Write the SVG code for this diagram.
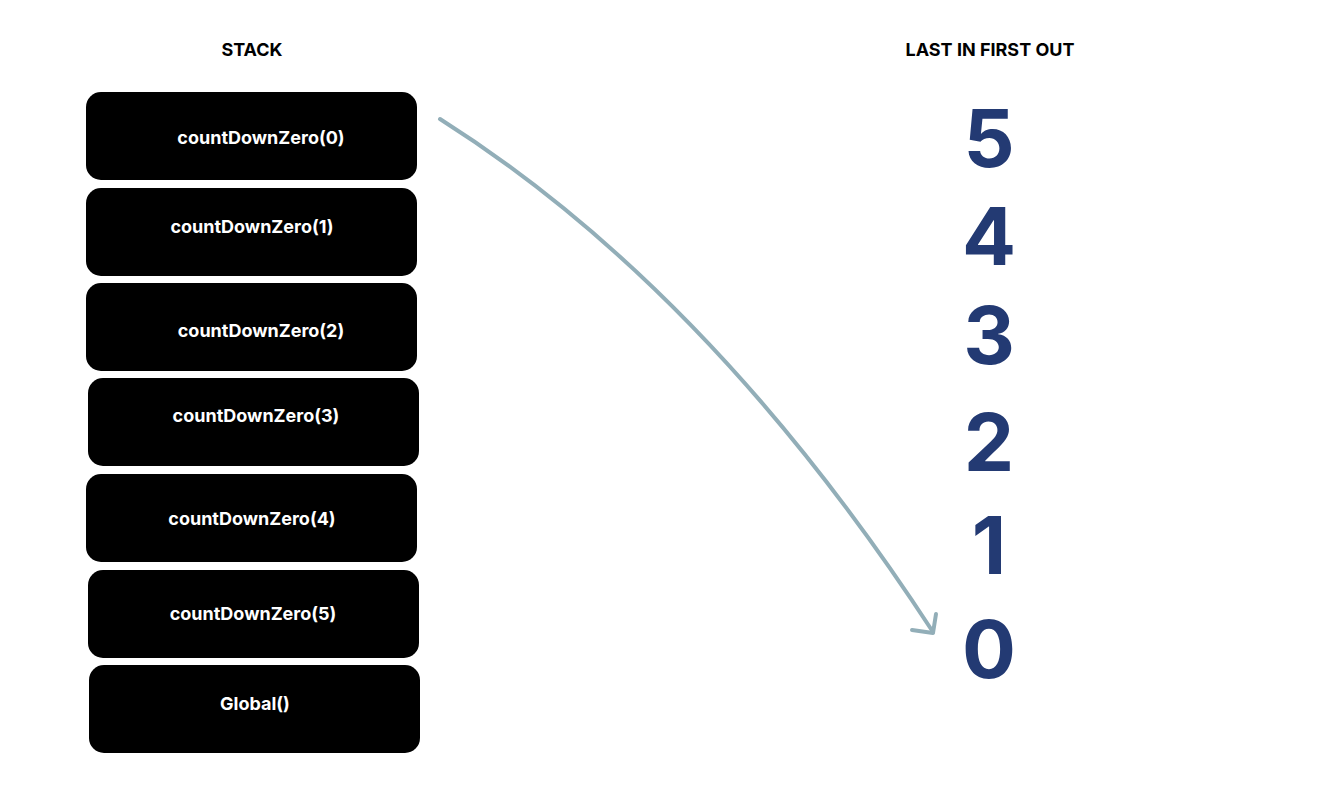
<svg xmlns="http://www.w3.org/2000/svg" width="1336" height="788" viewBox="0 0 1336 788">
<style>
.box{fill:#000;}
.lbl{font-family:Inter,"Liberation Sans",sans-serif;font-weight:700;font-size:18px;fill:#fff;text-anchor:middle;}
.hdr{font-family:Inter,"Liberation Sans",sans-serif;font-weight:700;font-size:18px;fill:#000;text-anchor:middle;}
.num{font-family:Inter,"Liberation Sans",sans-serif;font-weight:700;font-size:80px;fill:#233a73;text-anchor:middle;}
.conn{fill:none;stroke:#92aeb8;stroke-width:4;stroke-linecap:round;stroke-linejoin:round;}
</style>
<rect width="1336" height="788" fill="#fff"/>
<text class="hdr" x="990" y="56">LAST IN FIRST OUT</text>
<text class="hdr" x="252" y="56">STACK</text>
<g id="frame0"><rect class="box" x="86" y="92" width="331" height="88" rx="15"/><text class="lbl" x="261" y="144">countDownZero(0)</text></g>
<g id="frame1"><rect class="box" x="86" y="188" width="331" height="88" rx="15"/><text class="lbl" x="252" y="233">countDownZero(1)</text></g>
<g id="frame2"><rect class="box" x="86" y="283" width="331" height="88" rx="15"/><text class="lbl" x="261" y="337">countDownZero(2)</text></g>
<g id="frame3"><rect class="box" x="88" y="378" width="331" height="88" rx="15"/><text class="lbl" x="256" y="422">countDownZero(3)</text></g>
<g id="frame4"><rect class="box" x="86" y="474" width="331" height="88" rx="15"/><text class="lbl" x="252" y="525">countDownZero(4)</text></g>
<g id="frame5"><rect class="box" x="88" y="570" width="331" height="88" rx="15"/><text class="lbl" x="253" y="620">countDownZero(5)</text></g>
<g id="global"><rect class="box" x="89" y="665" width="331" height="88" rx="15"/><text class="lbl" x="255" y="710">Global()</text></g>
<g id="numbers">
<text class="num" x="989" y="167">5</text>
<text class="num" x="989" y="265">4</text>
<text class="num" x="989" y="364">3</text>
<text class="num" x="989" y="471">2</text>
<text class="num" x="989" y="574">1</text>
<text class="num" x="989" y="678">0</text>
</g>
<g id="connectors">
<path class="conn" d="M440 119 Q710 290 933 632"/>
<path class="conn" d="M912 630 L933 633 L936 614"/>
</g>
</svg>
